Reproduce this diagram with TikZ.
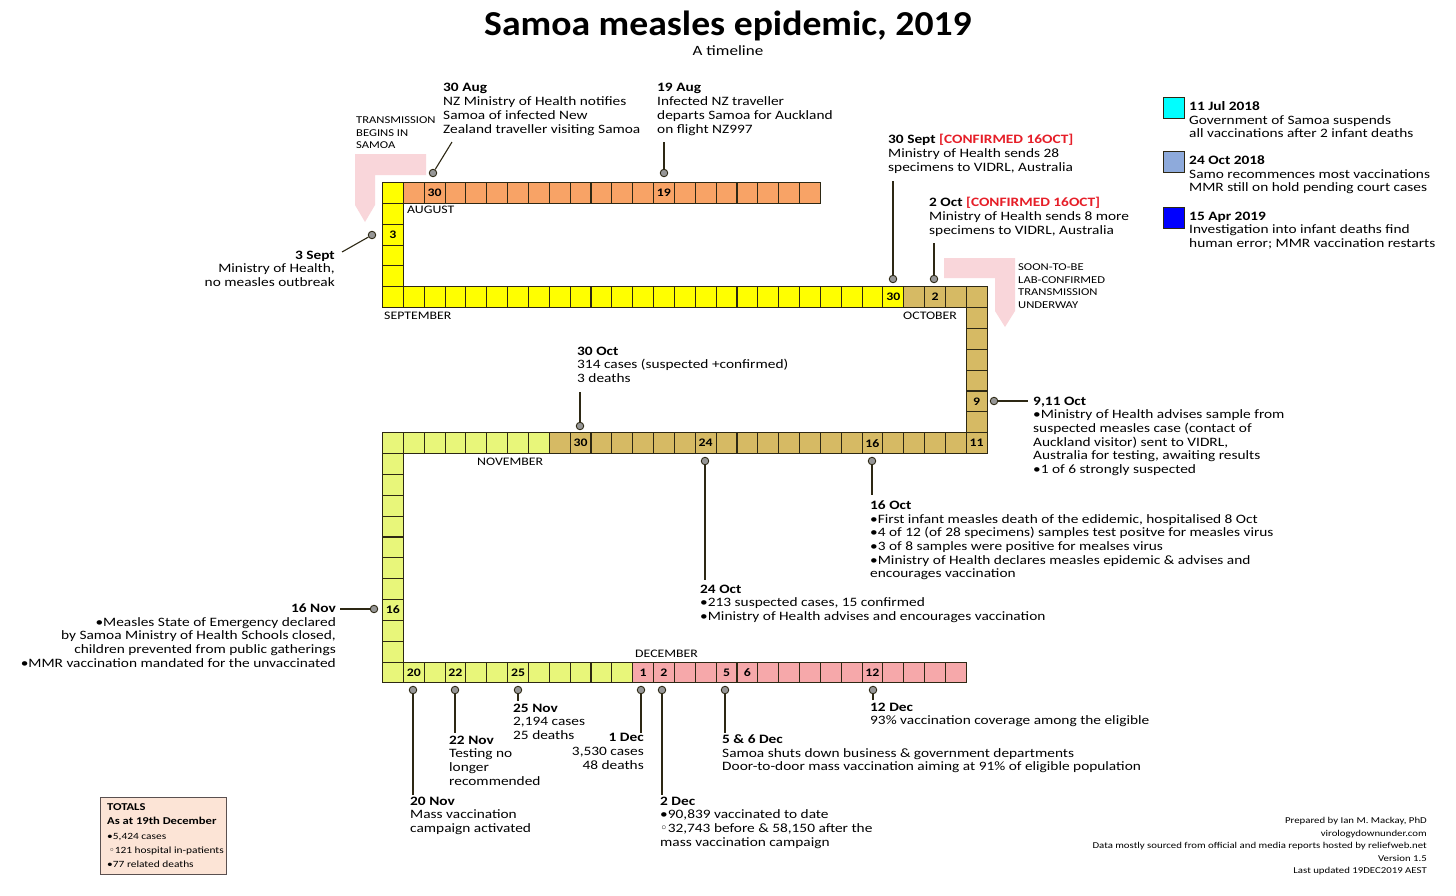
\documentclass[tikz,border=0pt]{standalone}
\usepackage{fontspec}
\setmainfont{Carlito}[FakeStretch=1.2]
\newfontfamily\titlefont{Carlito}[FakeStretch=1.077]
\newfontfamily\dejavu{DejaVu Sans}
\newcommand{\wbul}{{\dejavu\char"25E6}}
\definecolor{cAug}{RGB}{248,163,102}
\definecolor{cSep}{RGB}{255,255,0}
\definecolor{cOct}{RGB}{214,186,100}
\definecolor{cNov}{RGB}{232,246,122}
\definecolor{cDec}{RGB}{246,168,170}
\definecolor{cArrow}{RGB}{249,214,218}
\definecolor{cBorder}{RGB}{45,40,20}
\definecolor{cRed}{RGB}{230,30,40}
\definecolor{cCyan}{RGB}{0,255,255}
\definecolor{cLBlue}{RGB}{142,170,219}
\definecolor{cBlue}{RGB}{0,0,255}
\definecolor{cTot}{RGB}{252,228,214}
\tikzset{
  cellbox/.style={draw=cBorder,line width=1.1pt,minimum size=20.85pt,inner sep=0pt},
  daynum/.style={font=\fontsize{11.5}{13}\selectfont\bfseries,inner sep=0pt},
  pinpt/.style={circle,fill={rgb,255:red,150;green,150;blue,150},draw=cBorder,line width=0.9pt,minimum size=7.5pt,inner sep=0pt},
  lead/.style={draw=cBorder,line width=1.1pt},
  ann/.style={font=\fontsize{12.8}{13.7}\selectfont,align=left,inner sep=0pt,execute at begin node=\strut},
  annr/.style={ann,align=right},
  small/.style={font=\fontsize{10.5}{12.5}\selectfont,align=left,inner sep=0pt,execute at begin node=\strut},
  month/.style={font=\fontsize{11.5}{13}\selectfont,inner sep=0pt,anchor=west},
  legbox/.style={draw=cBorder,line width=1pt,minimum size=21pt,inner sep=0pt},
}
\newcommand{\daycell}[4]{\node[cellbox,fill=#4] (#1) at ({382.5+(#2+0.5)*20.85},{182.5+(#3+0.5)*20.85}) {};}
\begin{document}
\begin{tikzpicture}[x=1pt,y=-1pt]
\fill[white] (0,0) rectangle (1456,895);
\useasboundingbox (0,0) rectangle (1456,895);

% title
\node[font=\fontsize{35}{40}\titlefont\bfseries,inner sep=0pt] (title) at (728,26) {Samoa measles epidemic, 2019};
\node[font=\fontsize{14.2}{17}\selectfont,inner sep=0pt] (subtitle) at (728,51) {A timeline};

% pink arrows
\fill[cArrow] (355,154) -- (426,154) -- (426,175) -- (375,175) -- (375,205) -- (365,222) -- (355,205) -- cycle;
\fill[cArrow] (944,258) -- (1015,258) -- (1015,311) -- (1005,327) -- (995,311) -- (995,278) -- (944,278) -- cycle;

% cells
\foreach \d in {12,...,31}{\daycell{aug\d}{32-\d}{0}{cAug}}
\foreach \d in {1,...,6}{\daycell{sep\d}{0}{\d-1}{cSep}}
\foreach \d in {7,...,30}{\daycell{sep\d}{\d-6}{5}{cSep}}
\foreach \d in {1,...,4}{\daycell{oct\d}{24+\d}{5}{cOct}}
\foreach \d in {5,...,11}{\daycell{oct\d}{28}{\d+1}{cOct}}
\foreach \d in {12,...,31}{\daycell{oct\d}{39-\d}{12}{cOct}}
\foreach \d in {1,...,8}{\daycell{nov\d}{8-\d}{12}{cNov}}
\foreach \d in {9,...,19}{\daycell{nov\d}{0}{\d+4}{cNov}}
\foreach \d in {20,...,30}{\daycell{nov\d}{\d-19}{23}{cNov}}
\foreach \d in {1,...,16}{\daycell{dec\d}{\d+11}{23}{cDec}}

% day numbers
\node[daynum] (n-aug30) at (aug30) {30};
\node[daynum] (n-aug19) at (aug19) {19};
\node[daynum] (n-sep3) at (sep3) {3};
\node[daynum] (n-sep30) at (sep30) {30};
\node[daynum] (n-oct2) at (oct2) {2};
\node[daynum] (n-oct9) at (oct9) {9};
\node[daynum] (n-oct11) at (oct11) {11};
\node[daynum] (n-oct30) at (oct30) {30};
\node[daynum] (n-oct24) at (oct24) {24};
\node[daynum] (n-oct16) at (oct16) {16};
\node[daynum] (n-nov16) at (nov16) {16};
\node[daynum] (n-nov20) at (nov20) {20};
\node[daynum] (n-nov22) at (nov22) {22};
\node[daynum] (n-nov25) at (nov25) {25};
\node[daynum] (n-dec1) at (dec1) {1};
\node[daynum] (n-dec2) at (dec2) {2};
\node[daynum] (n-dec5) at (dec5) {5};
\node[daynum] (n-dec6) at (dec6) {6};
\node[daynum] (n-dec12) at (dec12) {12};

% month labels
\node[month] (m-aug) at (407,210) {AUGUST};
\node[month] (m-sep) at (384,316) {SEPTEMBER};
\node[month] (m-oct) at (903,316) {OCTOBER};
\node[month] (m-nov) at (477,462) {NOVEMBER};
\node[month] (m-dec) at (635,654) {DECEMBER};

% side labels
\node[small,anchor=north west] (trans) at (356,116.6) {TRANSMISSION\\BEGINS IN\\SAMOA};
\node[small,anchor=north west] (soon) at (1018,263.6) {SOON-TO-BE\\LAB-CONFIRMED\\TRANSMISSION\\UNDERWAY};

% annotations
\node[ann,anchor=north west] (t30aug) at (443,83.4) {\textbf{30 Aug}\\NZ Ministry of Health notifies\\Samoa of infected New\\Zealand traveller visiting Samoa};
\node[ann,anchor=north west] (t19aug) at (657,83.4) {\textbf{19 Aug}\\Infected NZ traveller\\departs Samoa for Auckland\\on flight NZ997};
\node[annr,anchor=north east] (t3sep) at (335,250.4) {\textbf{3 Sept}\\Ministry of Health,\\no measles outbreak};
\node[ann,anchor=north west] (t30sep) at (888,134.4) {\textbf{30 Sept \textcolor{cRed}{[CONFIRMED 16OCT]}}\\Ministry of Health sends 28\\specimens to VIDRL, Australia};
\node[ann,anchor=north west] (t2oct) at (929,197.4) {\textbf{2 Oct \textcolor{cRed}{[CONFIRMED 16OCT]}}\\Ministry of Health sends 8 more\\specimens to VIDRL, Australia};
\node[ann,anchor=north west] (t911oct) at (1033,396.4) {\textbf{9,11 Oct}\\•Ministry of Health advises sample from\\suspected measles case (contact of\\Auckland visitor) sent to VIDRL,\\Australia for testing, awaiting results\\•1 of 6 strongly suspected};
\node[ann,anchor=north west] (t30oct) at (577,346.4) {\textbf{30 Oct}\\314 cases (suspected +confirmed)\\3 deaths};
\node[ann,anchor=north west] (t16oct) at (870,500.4) {\textbf{16 Oct}\\•First infant measles death of the edidemic, hospitalised 8 Oct\\•4 of 12 (of 28 specimens) samples test positve for measles virus\\•3 of 8 samples were positive for mealses virus\\•Ministry of Health declares measles epidemic \& advises and\\encourages vaccination};
\node[ann,anchor=north west] (t24oct) at (700,584.4) {\textbf{24 Oct}\\•213 suspected cases, 15 confirmed\\•Ministry of Health advises and encourages vaccination};
\node[annr,anchor=north east] (t16nov) at (336,603.4) {\textbf{16 Nov}\\•Measles State of Emergency declared\\by Samoa Ministry of Health Schools closed,\\children prevented from public gatherings\\•MMR vaccination mandated for the unvaccinated};
\node[ann,anchor=north west] (t20nov) at (410,796.4) {\textbf{20 Nov}\\Mass vaccination\\campaign activated};
\node[ann,anchor=north west] (t22nov) at (449,735.4) {\textbf{22 Nov}\\Testing no\\longer\\recommended};
\node[ann,anchor=north west] (t25nov) at (513,703.4) {\textbf{25 Nov}\\2,194 cases\\25 deaths};
\node[annr,anchor=north east] (t1dec) at (644,733.4) {\textbf{1 Dec}\\3,530 cases\\48 deaths};
\node[ann,anchor=north west] (t2dec) at (660,796.4) {\textbf{2 Dec}\\•90,839 vaccinated to date\\\wbul32,743 before \& 58,150 after the\\mass vaccination campaign};
\node[ann,anchor=north west] (t56dec) at (722,734.4) {\textbf{5 \& 6 Dec}\\Samoa shuts down business \& government departments\\Door-to-door mass vaccination aiming at 91\% of eligible population};
\node[ann,anchor=north west] (t12dec) at (870,702.4) {\textbf{12 Dec}\\93\% vaccination coverage among the eligible};

% pins and leads
\node[pinpt] (p30aug) at (433,173) {};
\coordinate (e30aug) at (452,142);
\draw[lead] (p30aug) -- (e30aug);
\node[pinpt] (p19aug) at (664,173) {};
\coordinate (e19aug) at (664,142);
\draw[lead] (p19aug) -- (e19aug);
\node[pinpt] (p3sep) at (372,235) {};
\coordinate (e3sep) at (342,252);
\draw[lead] (p3sep) -- (e3sep);
\node[pinpt] (p30sep) at (893,279) {};
\coordinate (e30sep) at (893,181);
\draw[lead] (p30sep) -- (e30sep);
\node[pinpt] (p2oct) at (934,279) {};
\coordinate (e2oct) at (934,243);
\draw[lead] (p2oct) -- (e2oct);
\node[pinpt] (p911oct) at (994,401) {};
\coordinate (e911oct) at (1028,401);
\draw[lead] (p911oct) -- (e911oct);
\node[pinpt] (p30oct) at (580,426) {};
\coordinate (e30oct) at (580,392);
\draw[lead] (p30oct) -- (e30oct);
\node[pinpt] (p16oct) at (872,461) {};
\coordinate (e16oct) at (872,495);
\draw[lead] (p16oct) -- (e16oct);
\node[pinpt] (p24oct) at (705,461) {};
\coordinate (e24oct) at (705,580);
\draw[lead] (p24oct) -- (e24oct);
\node[pinpt] (p16nov) at (374,609) {};
\coordinate (e16nov) at (340,609);
\draw[lead] (p16nov) -- (e16nov);
\node[pinpt] (p20nov) at (413,690) {};
\coordinate (e20nov) at (413,795);
\draw[lead] (p20nov) -- (e20nov);
\node[pinpt] (p22nov) at (455,690) {};
\coordinate (e22nov) at (455,733);
\draw[lead] (p22nov) -- (e22nov);
\node[pinpt] (p25nov) at (518,690) {};
\coordinate (e25nov) at (518,701);
\draw[lead] (p25nov) -- (e25nov);
\node[pinpt] (p1dec) at (641,690) {};
\coordinate (e1dec) at (641,733);
\draw[lead] (p1dec) -- (e1dec);
\node[pinpt] (p2dec) at (662,690) {};
\coordinate (e2dec) at (662,795);
\draw[lead] (p2dec) -- (e2dec);
\node[pinpt] (p56dec) at (725,690) {};
\coordinate (e56dec) at (725,733);
\draw[lead] (p56dec) -- (e56dec);
\node[pinpt] (p12dec) at (873,690) {};
\coordinate (e12dec) at (873,700);
\draw[lead] (p12dec) -- (e12dec);

% legend
\node[legbox,fill=cCyan] (lg1) at (1173.5,107.5) {};
\node[legbox,fill=cLBlue] (lg2) at (1173.5,162) {};
\node[legbox,fill=cBlue] (lg3) at (1173.5,218) {};
\node[ann,anchor=north west] (lt1) at (1189,101.4) {\textbf{11 Jul 2018}\\Government of Samoa suspends\\all vaccinations after 2 infant deaths};
\node[ann,anchor=north west] (lt2) at (1189,155.4) {\textbf{24 Oct 2018}\\Samo recommences most vaccinations\\MMR still on hold pending court cases};
\node[ann,anchor=north west] (lt3) at (1189,211.4) {\textbf{15 Apr 2019}\\Investigation into infant deaths find\\human error; MMR vaccination restarts};

% totals
\node[draw={rgb,255:red,90;green,80;blue,80},line width=0.8pt,fill=cTot,minimum width=126pt,minimum height=77pt,inner sep=0pt] (totbox) at (163,835.5) {};
\node[font=\fontsize{9.5}{14.2}\selectfont,align=left,inner sep=0pt,anchor=north west,execute at begin node=\strut] (tottext) at (107,803.5) {\textbf{\fontsize{10.5}{14.2}\selectfont TOTALS}\\\textbf{\fontsize{10.5}{14.2}\selectfont As at 19th December}\\•5,424 cases\\\hspace*{2pt}\wbul121 hospital in-patients\\•77 related deaths};

% credits
\node[font=\fontsize{9}{12.5}\selectfont,align=right,inner sep=0pt,anchor=north east,execute at begin node=\strut] (credits) at (1427,817.5) {Prepared by Ian M. Mackay, PhD\\virologydownunder.com\\Data mostly sourced from official and media reports hosted by reliefweb.net\\Version 1.5\\Last updated 19DEC2019 AEST};
\end{tikzpicture}
\end{document}
